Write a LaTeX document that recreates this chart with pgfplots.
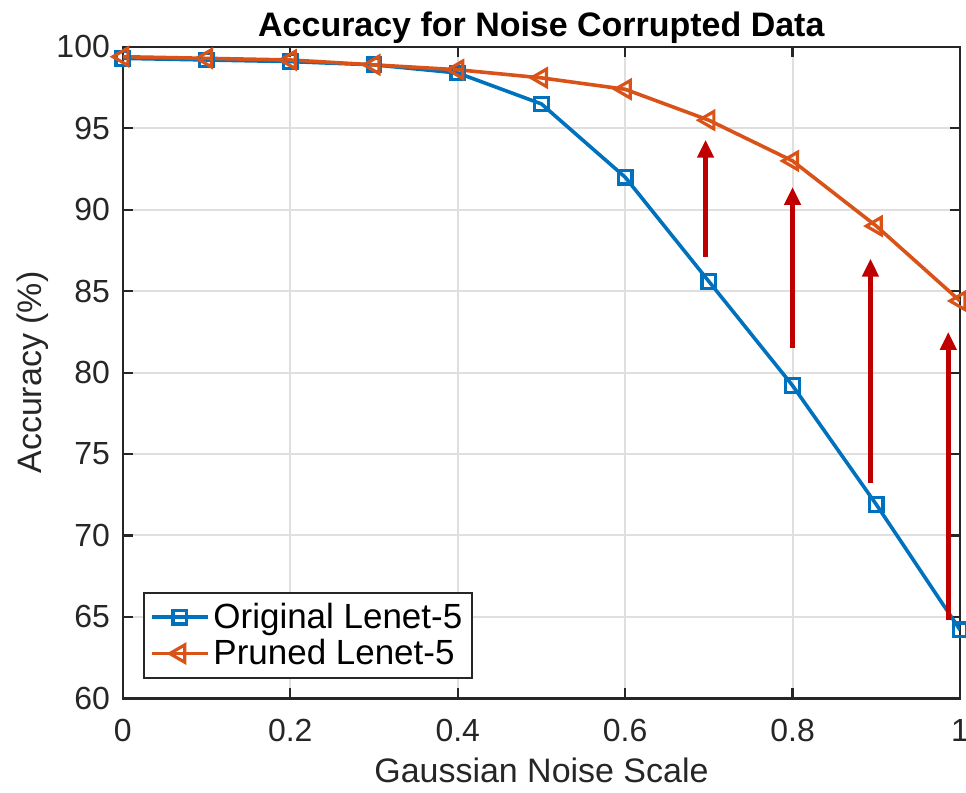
\documentclass[border=0pt]{standalone}
\usepackage{pgfplots}
\pgfplotsset{compat=1.18}
\usepackage{fontspec}
\setmainfont{Liberation Sans}
\usetikzlibrary{arrows.meta}
\definecolor{mblue}{HTML}{0072BD}
\definecolor{morange}{HTML}{D95319}
\definecolor{mred}{HTML}{C00000}
\definecolor{axgray}{HTML}{262626}
\begin{document}
\begin{tikzpicture}
\begin{axis}[
  name=ax,
  scale only axis,
  width=419pt, height=326pt,
  xmin=0, xmax=1, ymin=60, ymax=100,
  xtick={0,0.2,0.4,0.6,0.8,1},
  xticklabels={0,0.2,0.4,0.6,0.8,1},
  ytick={60,65,70,75,80,85,90,95,100},
  tick align=inside,
  major tick length=5pt,
  axis line style={axgray, line width=1.3pt},
  every tick/.style={axgray, line width=1.1pt},
  grid=major,
  grid style={gray!25, line width=1pt},
  tick label style={font=\fontsize{16}{18}\selectfont, text=axgray},
  xticklabel style={yshift=-7pt},
  yticklabel style={xshift=-3pt},
  /pgf/number format/assume math mode=true,
  xlabel={Gaussian Noise Scale},
  ylabel={Accuracy (\%)},
  label style={font=\fontsize{17}{19}\selectfont, text=axgray},
  xlabel style={yshift=-1pt},
  ylabel style={yshift=-3pt},
  title={\textbf{Accuracy for Noise Corrupted Data}},
  title style={font=\fontsize{17}{19}\selectfont, yshift=-8pt},
  legend style={at={(0.024,0.03)}, anchor=south west, font=\fontsize{17.5}{20}\selectfont,
    draw=axgray, line width=1pt, inner sep=3pt, row sep=0pt},
  legend cell align=left,
  legend image code/.code={\draw[mark repeat=2,mark phase=2] plot coordinates {(0pt,0pt) (14pt,0pt) (28pt,0pt)};},
]
\addplot[mblue, line width=1.8pt, mark=square, mark size=3.4pt, mark options={line width=1.6pt}]
coordinates {(0,99.3) (0.1,99.2) (0.2,99.1) (0.3,98.9) (0.4,98.4) (0.5,96.5) (0.6,92.0) (0.7,85.6) (0.8,79.2) (0.9,71.9) (1.0,64.2)};
\addlegendentry{Original Lenet-5}
\addplot[morange, line width=1.8pt, mark=triangle, mark size=5pt, mark options={rotate=90, line width=1.6pt}]
coordinates {(0,99.4) (0.1,99.3) (0.2,99.2) (0.3,98.9) (0.4,98.6) (0.5,98.1) (0.6,97.4) (0.7,95.5) (0.8,93.0) (0.9,89.0) (1.0,84.4)};
\addlegendentry{Pruned Lenet-5}
\addplot[mred, line width=2.5pt, -{Triangle[width=8pt,length=9pt]}, forget plot] coordinates {(0.696,87.1) (0.696,94.3)};
\addplot[mred, line width=2.5pt, -{Triangle[width=8pt,length=9pt]}, forget plot] coordinates {(0.800,81.5) (0.800,91.4)};
\addplot[mred, line width=2.5pt, -{Triangle[width=8pt,length=9pt]}, forget plot] coordinates {(0.893,73.2) (0.893,87.0)};
\addplot[mred, line width=2.5pt, -{Triangle[width=8pt,length=9pt]}, forget plot] coordinates {(0.986,64.8) (0.986,82.5)};
\coordinate (sw) at (rel axis cs:0,0);
\coordinate (ne) at (rel axis cs:1,1);
\end{axis}
\pgfresetboundingbox
\path[use as bounding box] ([shift={(-61.5pt,-47pt)}]sw) rectangle ([shift={(3pt,23.5pt)}]ne);
\end{tikzpicture}
\end{document}
